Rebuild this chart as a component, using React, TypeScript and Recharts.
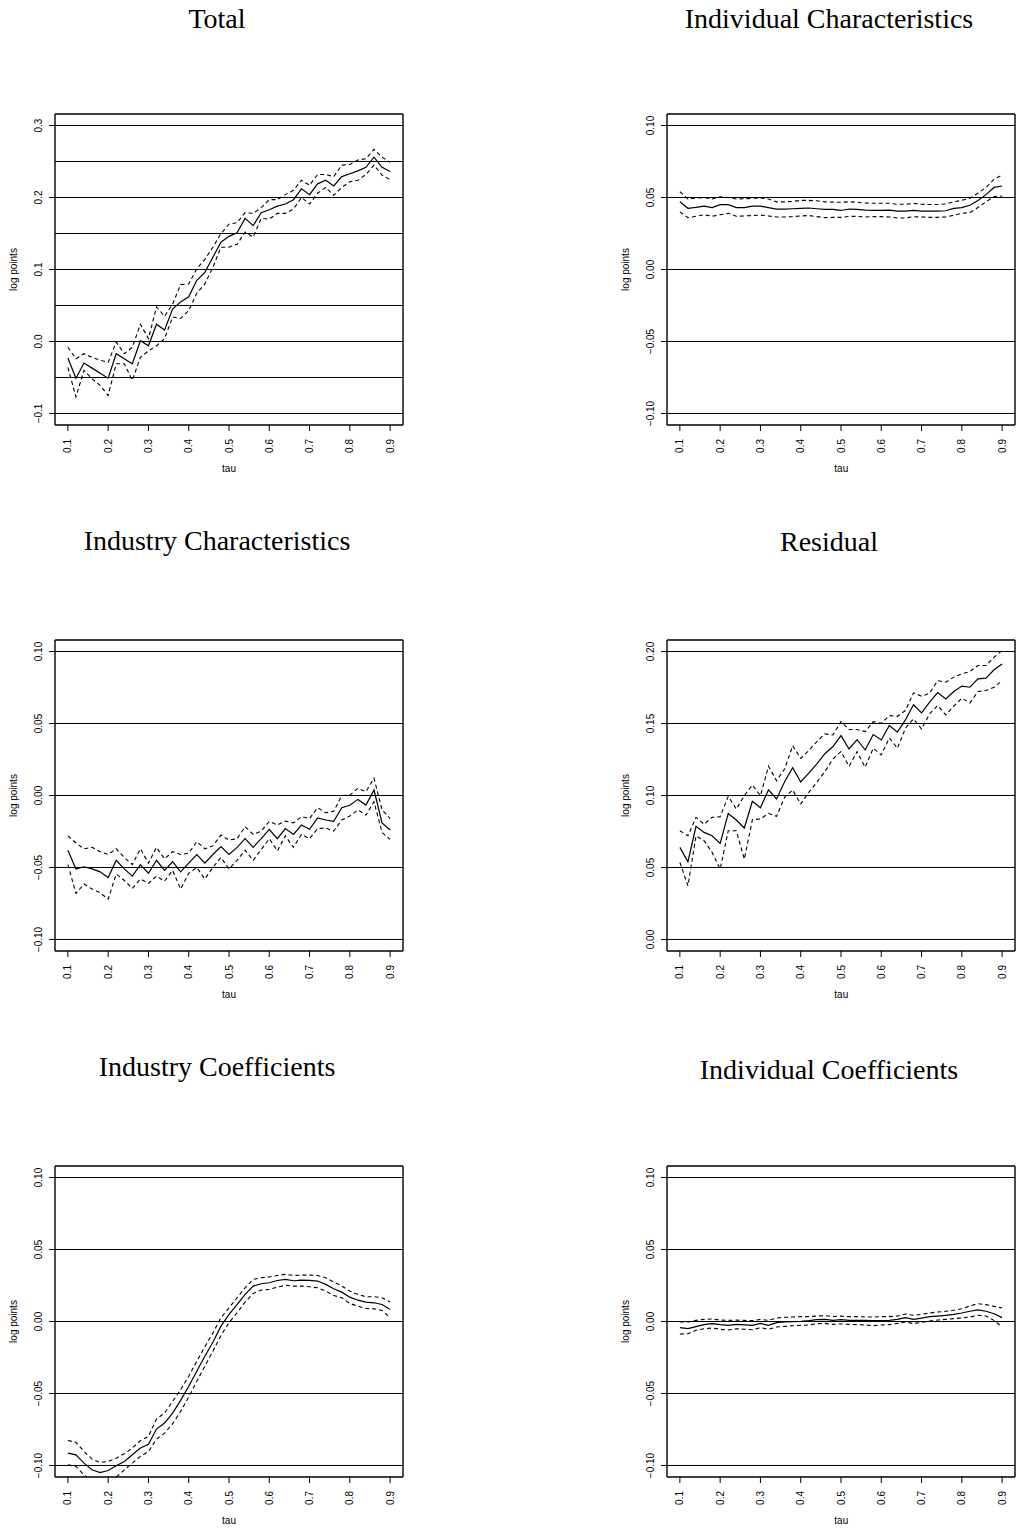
import React from 'react';
import { LineChart, Line, XAxis, YAxis, ReferenceLine } from 'recharts';

// quantiles the estimates are evaluated at
const tau = [
  0.10, 0.12, 0.14, 0.16, 0.18, 0.20, 0.22, 0.24, 0.26, 0.28, 0.30, 0.32, 0.34, 0.36,
  0.38, 0.40, 0.42, 0.44, 0.46, 0.48, 0.50, 0.52, 0.54, 0.56, 0.58, 0.60, 0.62, 0.64,
  0.66, 0.68, 0.70, 0.72, 0.74, 0.76, 0.78, 0.80, 0.82, 0.84, 0.86, 0.88, 0.90,
];
const xTicks = [0.1, 0.2, 0.3, 0.4, 0.5, 0.6, 0.7, 0.8, 0.9];

// Total
const totalEst = [-0.023, -0.051, -0.030, -0.037, -0.044, -0.051, -0.017, -0.024, -0.031, 0.001, -0.006, 0.024, 0.016, 0.045, 0.055, 0.062, 0.085, 0.096, 0.117, 0.138, 0.146, 0.151, 0.171, 0.161, 0.179, 0.183, 0.188, 0.191, 0.197, 0.212, 0.204, 0.219, 0.224, 0.216, 0.229, 0.233, 0.237, 0.242, 0.256, 0.242, 0.236];
const totalHi = [-0.008, -0.024, -0.017, -0.022, -0.026, -0.029, -0.001, -0.017, -0.008, 0.024, 0.004, 0.048, 0.035, 0.052, 0.079, 0.080, 0.101, 0.114, 0.131, 0.150, 0.163, 0.165, 0.179, 0.178, 0.186, 0.197, 0.197, 0.204, 0.210, 0.224, 0.217, 0.232, 0.232, 0.229, 0.245, 0.246, 0.252, 0.254, 0.267, 0.256, 0.249];
const totalLo = [-0.036, -0.077, -0.040, -0.052, -0.061, -0.075, -0.031, -0.031, -0.054, -0.022, -0.013, -0.006, 0.004, 0.034, 0.032, 0.043, 0.067, 0.080, 0.103, 0.131, 0.131, 0.135, 0.152, 0.145, 0.171, 0.170, 0.178, 0.178, 0.184, 0.200, 0.191, 0.206, 0.214, 0.203, 0.214, 0.222, 0.224, 0.232, 0.245, 0.231, 0.225];

// Individual Characteristics
const indCharEst = [0.047, 0.0425, 0.0432, 0.044, 0.043, 0.045, 0.045, 0.043, 0.043, 0.044, 0.044, 0.043, 0.042, 0.042, 0.0422, 0.0425, 0.0427, 0.0422, 0.0418, 0.0418, 0.041, 0.042, 0.0418, 0.0413, 0.041, 0.041, 0.0413, 0.0406, 0.0405, 0.041, 0.0406, 0.0406, 0.0406, 0.0408, 0.0425, 0.043, 0.0446, 0.048, 0.052, 0.057, 0.058];
const indCharHi = [0.054, 0.049, 0.0495, 0.050, 0.049, 0.0505, 0.050, 0.049, 0.0492, 0.0494, 0.0497, 0.049, 0.047, 0.047, 0.0473, 0.048, 0.048, 0.0477, 0.047, 0.0468, 0.0467, 0.047, 0.0467, 0.0462, 0.046, 0.046, 0.046, 0.0453, 0.0453, 0.0458, 0.0453, 0.0451, 0.0451, 0.0455, 0.047, 0.048, 0.0495, 0.053, 0.057, 0.0627, 0.0655];
const indCharLo = [0.040, 0.036, 0.037, 0.038, 0.037, 0.038, 0.039, 0.037, 0.0372, 0.0375, 0.0378, 0.0372, 0.0365, 0.0365, 0.0367, 0.0372, 0.0375, 0.0367, 0.036, 0.0362, 0.0362, 0.0369, 0.0369, 0.0365, 0.0367, 0.0367, 0.0365, 0.0358, 0.0358, 0.0367, 0.0365, 0.0362, 0.0362, 0.0365, 0.0377, 0.039, 0.0395, 0.043, 0.047, 0.0507, 0.051];

// Industry Characteristics
const indusCharEst = [-0.038, -0.051, -0.0495, -0.051, -0.053, -0.057, -0.045, -0.051, -0.056, -0.048, -0.054, -0.045, -0.052, -0.046, -0.053, -0.047, -0.041, -0.047, -0.041, -0.0355, -0.041, -0.036, -0.030, -0.036, -0.030, -0.0235, -0.030, -0.023, -0.027, -0.0205, -0.0235, -0.0155, -0.017, -0.018, -0.0085, -0.0068, -0.0027, -0.0066, 0.0038, -0.019, -0.024];
const indusCharHi = [-0.028, -0.033, -0.037, -0.036, -0.039, -0.041, -0.037, -0.043, -0.048, -0.037, -0.047, -0.036, -0.044, -0.039, -0.041, -0.040, -0.032, -0.037, -0.035, -0.0275, -0.031, -0.030, -0.0217, -0.027, -0.0247, -0.018, -0.0205, -0.0178, -0.019, -0.0147, -0.016, -0.0085, -0.012, -0.011, 0.000, 0.0003, 0.005, 0.0027, 0.012, -0.010, -0.016];
const indusCharLo = [-0.048, -0.068, -0.0615, -0.065, -0.0675, -0.072, -0.0545, -0.059, -0.0645, -0.058, -0.061, -0.056, -0.0595, -0.052, -0.065, -0.054, -0.050, -0.058, -0.050, -0.043, -0.051, -0.045, -0.038, -0.045, -0.0375, -0.030, -0.0385, -0.028, -0.036, -0.027, -0.030, -0.023, -0.0225, -0.0247, -0.017, -0.0143, -0.010, -0.0136, -0.0043, -0.0257, -0.0305];

// Residual
const residEst = [0.064, 0.054, 0.0786, 0.0744, 0.072, 0.0667, 0.0874, 0.083, 0.0774, 0.096, 0.0915, 0.104, 0.0976, 0.1096, 0.1193, 0.1094, 0.1156, 0.122, 0.129, 0.134, 0.1416, 0.1323, 0.1388, 0.1316, 0.1423, 0.1386, 0.1486, 0.144, 0.1525, 0.163, 0.1574, 0.1648, 0.1715, 0.167, 0.1722, 0.176, 0.1752, 0.181, 0.1815, 0.1873, 0.1914];
const residHi = [0.0755, 0.072, 0.0848, 0.080, 0.0848, 0.0853, 0.0994, 0.0906, 0.0999, 0.1073, 0.0999, 0.1203, 0.1103, 0.1184, 0.1346, 0.1258, 0.1312, 0.1374, 0.1428, 0.142, 0.1513, 0.1458, 0.1458, 0.1444, 0.1513, 0.1502, 0.1555, 0.155, 0.159, 0.1713, 0.169, 0.171, 0.1798, 0.1787, 0.1822, 0.1845, 0.1861, 0.1903, 0.1903, 0.196, 0.2007];
const residLo = [0.0535, 0.0373, 0.072, 0.0686, 0.0605, 0.0489, 0.0755, 0.0755, 0.0558, 0.0832, 0.0837, 0.0876, 0.0855, 0.0987, 0.1038, 0.0941, 0.1022, 0.1092, 0.1166, 0.1254, 0.1305, 0.1203, 0.1305, 0.1196, 0.1328, 0.1282, 0.14, 0.1328, 0.1467, 0.1532, 0.1462, 0.1567, 0.1625, 0.156, 0.162, 0.1676, 0.1643, 0.1722, 0.1729, 0.1752, 0.1798];

// Industry Coefficients
const indusCoefEst = [-0.0914, -0.0926, -0.0984, -0.103, -0.1049, -0.1035, -0.1002, -0.0972, -0.0926, -0.0879, -0.0852, -0.0747, -0.0705, -0.0636, -0.0548, -0.045, -0.0346, -0.0241, -0.0144, -0.0032, 0.0049, 0.0118, 0.0188, 0.0246, 0.0262, 0.0269, 0.0285, 0.0292, 0.0283, 0.0288, 0.0285, 0.0281, 0.0258, 0.0227, 0.0204, 0.0169, 0.0148, 0.0135, 0.013, 0.0118, 0.0084];
const indusCoefHi = [-0.0826, -0.084, -0.0903, -0.0956, -0.0979, -0.0972, -0.0949, -0.0919, -0.0879, -0.0828, -0.0798, -0.0677, -0.0636, -0.0555, -0.0473, -0.038, -0.0276, -0.0176, -0.0079, 0.0026, 0.0095, 0.0165, 0.0234, 0.0292, 0.0304, 0.0309, 0.032, 0.0327, 0.032, 0.0322, 0.0322, 0.032, 0.0304, 0.0274, 0.0246, 0.0211, 0.0188, 0.0172, 0.0172, 0.0165, 0.0135];
const indusCoefLo = [-0.0995, -0.1007, -0.1065, -0.111, -0.1123, -0.111, -0.1081, -0.103, -0.0984, -0.0937, -0.0903, -0.0817, -0.0775, -0.071, -0.0624, -0.0524, -0.0415, -0.0311, -0.0206, -0.0097, -0.0009, 0.006, 0.0135, 0.0195, 0.0218, 0.0223, 0.0239, 0.0251, 0.0246, 0.0246, 0.0241, 0.0234, 0.0211, 0.0181, 0.0165, 0.0125, 0.0107, 0.009, 0.0088, 0.0077, 0.0026];

// Individual Coefficients
const indCoefEst = [-0.0043, -0.005, -0.0036, -0.0022, -0.0015, -0.0022, -0.0027, -0.002, -0.0024, -0.0027, -0.0013, -0.0027, -0.0008, -0.0003, -0.0001, 0.0001, 0.0006, 0.0013, 0.0015, 0.0008, 0.0013, 0.0008, 0.0008, 0.0008, 0.0006, 0.0006, 0.0008, 0.0015, 0.0027, 0.0015, 0.0024, 0.0034, 0.0038, 0.0043, 0.005, 0.0059, 0.0071, 0.008, 0.0071, 0.0054, 0.0027];
const indCoefHi = [-0.0003, -0.0003, 0.0008, 0.0015, 0.0017, 0.001, 0.0008, 0.001, 0.0008, 0.0006, 0.0015, 0.0008, 0.0024, 0.0029, 0.0031, 0.0034, 0.0034, 0.0038, 0.0041, 0.0034, 0.0038, 0.0034, 0.0034, 0.0031, 0.0031, 0.0034, 0.0034, 0.0038, 0.0052, 0.0043, 0.005, 0.0059, 0.0066, 0.0071, 0.0078, 0.0089, 0.0108, 0.0124, 0.0117, 0.0105, 0.0094];
const indCoefLo = [-0.0087, -0.0085, -0.0061, -0.005, -0.0045, -0.0054, -0.0059, -0.005, -0.0054, -0.0057, -0.0043, -0.0054, -0.0038, -0.0034, -0.0029, -0.0027, -0.0024, -0.0015, -0.0013, -0.002, -0.0017, -0.002, -0.0022, -0.0024, -0.0029, -0.0024, -0.0022, -0.0013, -0.0003, -0.0015, -0.0006, 0.0003, 0.001, 0.0015, 0.002, 0.0024, 0.0031, 0.0043, 0.0038, 0.0008, -0.0038];

// y ticks / horizontal rules
const totalYTicks = [-0.1, 0, 0.1, 0.2, 0.3];
const totalRules = [-0.1, -0.05, 0, 0.05, 0.1, 0.15, 0.2, 0.25, 0.3];
const symYTicks = [-0.1, -0.05, 0, 0.05, 0.1];
const residYTicks = [0, 0.05, 0.1, 0.15, 0.2];

const SANS = '"Liberation Sans", Arial, Helvetica, sans-serif';
const SERIF = '"Liberation Serif", "Times New Roman", serif';

type Panel = {
  title: string;
  est: number[];
  lo: number[];
  hi: number[];
  ylim: [number, number];
  yTicks: number[];
  rules: number[];
  digits: number;
};

const panels: Panel[] = [
  { title: 'Total', est: totalEst, lo: totalLo, hi: totalHi, ylim: [-0.1, 0.3], yTicks: totalYTicks, rules: totalRules, digits: 1 },
  { title: 'Individual Characteristics', est: indCharEst, lo: indCharLo, hi: indCharHi, ylim: [-0.1, 0.1], yTicks: symYTicks, rules: symYTicks, digits: 2 },
  { title: 'Industry Characteristics', est: indusCharEst, lo: indusCharLo, hi: indusCharHi, ylim: [-0.1, 0.1], yTicks: symYTicks, rules: symYTicks, digits: 2 },
  { title: 'Residual', est: residEst, lo: residLo, hi: residHi, ylim: [0, 0.2], yTicks: residYTicks, rules: residYTicks, digits: 2 },
  { title: 'Industry Coefficients', est: indusCoefEst, lo: indusCoefLo, hi: indusCoefHi, ylim: [-0.1, 0.1], yTicks: symYTicks, rules: symYTicks, digits: 2 },
  { title: 'Individual Coefficients', est: indCoefEst, lo: indCoefLo, hi: indCoefHi, ylim: [-0.1, 0.1], yTicks: symYTicks, rules: symYTicks, digits: 2 },
];

// layout (page pixels)
const BOX_W = 348;
const BOX_H = 311;
const ML = 55; // space left of box for labels
const MT = 14;
const MR = 17;
const MB = 56;
const colLeft = [55, 667.3];
const rowTop = [114, 640, 1166];
const titleX = [217, 829];
const titleY = [[28, 28], [550, 551], [1076, 1079]];

// R-style 4% axis padding
const pad = (lim: [number, number]): [number, number] => {
  const d = (lim[1] - lim[0]) * 0.04;
  return [lim[0] - d, lim[1] + d];
};

const fmt = (v: number, digits: number) => v.toFixed(digits).replace('-', '\u2212');

const XTick = (props: any) => {
  const { x, y, payload } = props;
  return (
    <text transform={`translate(${x},${y}) rotate(-90)`} textAnchor="end" dominantBaseline="central"
      fontSize={10} fontFamily={SANS} fill="#000">
      {fmt(payload.value, 1)}
    </text>
  );
};

const makeYTick = (digits: number) => (props: any) => {
  const { x, y, payload } = props;
  return (
    <text transform={`translate(${x},${y}) rotate(-90)`} textAnchor="middle" dominantBaseline="central"
      fontSize={10} fontFamily={SANS} fill="#000">
      {fmt(payload.value, digits)}
    </text>
  );
};

const QuantilePanel: React.FC<{ p: Panel }> = ({ p }) => {
  const data = tau.map((t, i) => ({ tau: t, est: p.est[i], lo: p.lo[i], hi: p.hi[i] }));
  const xDomain = pad([0.1, 0.9]);
  const yDomain = pad(p.ylim);
  const frame = { stroke: '#000', strokeWidth: 1.4 };
  return (
    <LineChart width={ML + BOX_W + MR} height={MT + BOX_H + MB} data={data}
      margin={{ top: MT, right: MR, bottom: 0, left: 0 }}>
      <XAxis dataKey="tau" type="number" domain={xDomain} allowDataOverflow ticks={xTicks} interval={0}
        height={MB} tickSize={6} tickMargin={8} tick={<XTick />}
        axisLine={frame} tickLine={{ stroke: '#000' }} />
      <YAxis type="number" domain={yDomain} allowDataOverflow ticks={p.yTicks} interval={0}
        width={ML} tickSize={6} tickMargin={11} tick={makeYTick(p.digits)}
        axisLine={frame} tickLine={{ stroke: '#000' }} />
      {p.rules.map((v) => (
        <ReferenceLine key={v} y={v} stroke="#000" strokeWidth={1} />
      ))}
      {/* top and right sides of the plot frame */}
      <ReferenceLine y={yDomain[1]} stroke="#000" strokeWidth={1.4} ifOverflow="visible" />
      <ReferenceLine x={xDomain[1]} stroke="#000" strokeWidth={1.4} ifOverflow="visible" />
      <Line dataKey="hi" type="linear" stroke="#000" strokeWidth={1.1} strokeDasharray="4 3" dot={false} activeDot={false} isAnimationActive={false} />
      <Line dataKey="lo" type="linear" stroke="#000" strokeWidth={1.1} strokeDasharray="4 3" dot={false} activeDot={false} isAnimationActive={false} />
      <Line dataKey="est" type="linear" stroke="#000" strokeWidth={1.2} dot={false} activeDot={false} isAnimationActive={false} />
    </LineChart>
  );
};

export default function App() {
  return (
    <div style={{ position: 'absolute', left: 0, top: 0, width: 1016, height: 1529, overflow: 'hidden', background: '#fff' }}>
      {panels.map((p, i) => {
        const col = i % 2;
        const row = Math.floor(i / 2);
        return (
          <div key={p.title} style={{ position: 'absolute', left: colLeft[col] - ML, top: rowTop[row] - MT }}>
            <QuantilePanel p={p} />
          </div>
        );
      })}
      <svg width={1016} height={1529} style={{ position: 'absolute', left: 0, top: 0, pointerEvents: 'none' }}>
        {panels.map((p, i) => {
          const col = i % 2;
          const row = Math.floor(i / 2);
          const bx = colLeft[col];
          const by = rowTop[row];
          return (
            <g key={p.title}>
              <text x={titleX[col]} y={titleY[row][col]} textAnchor="middle" fontFamily={SERIF} fontSize={28} fill="#000">
                {p.title}
              </text>
              <text transform={`translate(${bx - 42},${by + BOX_H / 2}) rotate(-90)`} textAnchor="middle"
                dominantBaseline="central" fontFamily={SANS} fontSize={10} fill="#000">
                log points
              </text>
              <text x={bx + BOX_W / 2} y={by + BOX_H + 47} textAnchor="middle" fontFamily={SANS} fontSize={10} fill="#000">
                tau
              </text>
            </g>
          );
        })}
      </svg>
    </div>
  );
}
